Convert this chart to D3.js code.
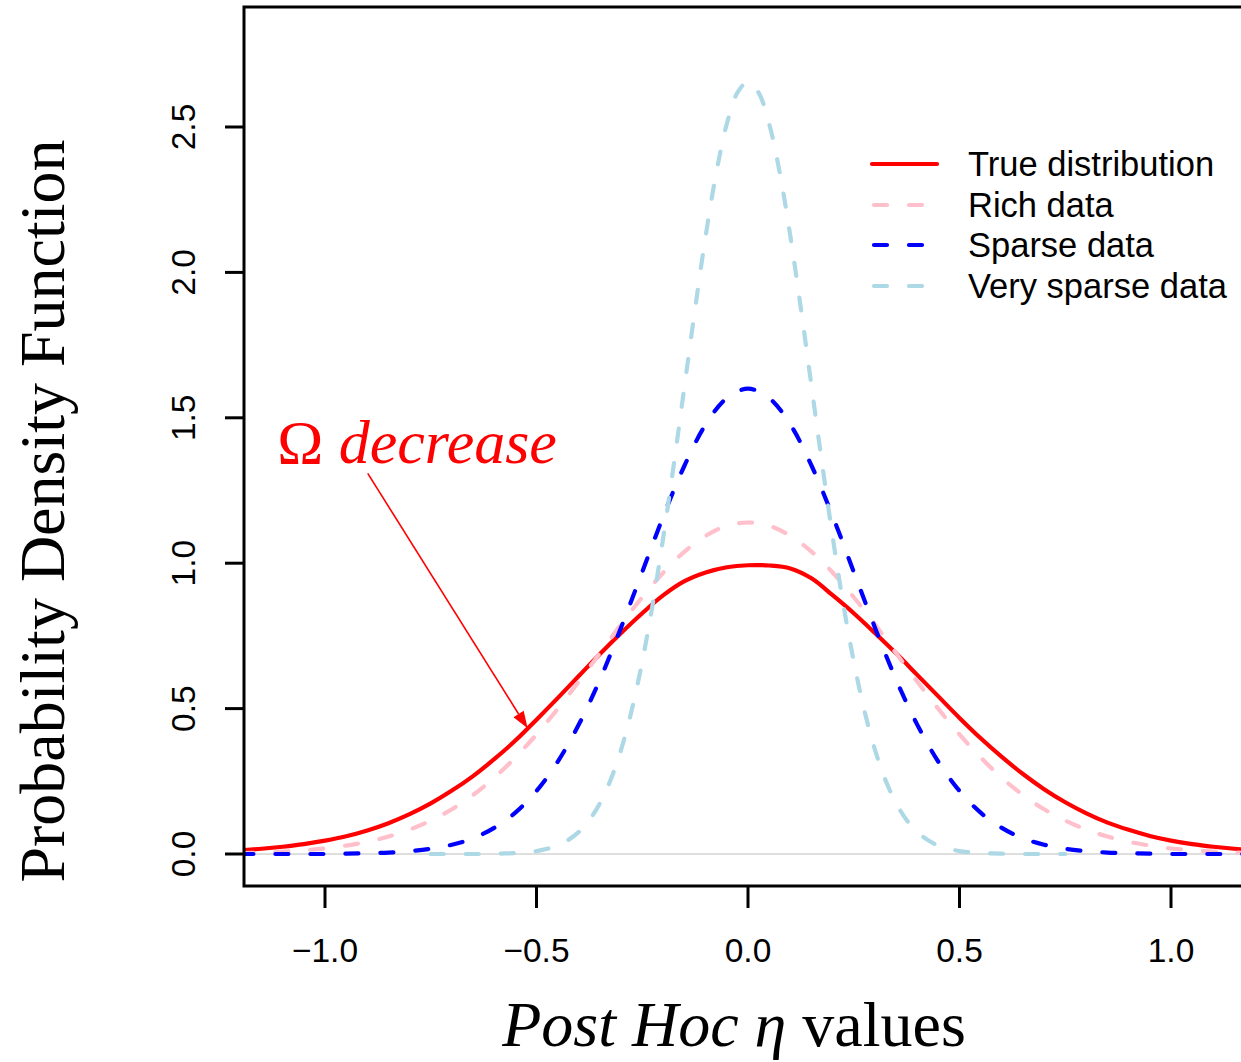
<!DOCTYPE html>
<html>
<head>
<meta charset="utf-8">
<script src="https://cdn.jsdelivr.net/npm/d3@7"></script>
<style>
  html, body { margin: 0; padding: 0; background: #fff; }
  svg { display: block; }
</style>
</head>
<body>
<svg id="chart" width="1241" height="1062"></svg>
<script>
// ---------------- data ----------------
const etaGrid = [-1.2,-1.15,-1.1,-1.05,-1.0,-0.95,-0.9,-0.85,-0.8,-0.75,-0.7,-0.65,-0.6,-0.55,-0.5,-0.45,-0.4,-0.35,-0.3,-0.25,-0.2,-0.15,-0.1,-0.05,
  0,0.05,0.1,0.15,0.2,0.25,0.3,0.35,0.4,0.45,0.5,0.55,0.6,0.65,0.7,0.75,0.8,0.85,0.9,0.95,1.0,1.05,1.1,1.15,1.2];

const trueDistribution = [0.013,0.018,0.025,0.034,0.046,0.061,0.081,0.106,0.137,0.174,0.218,0.268,0.326,0.390,0.462,0.536,0.612,0.688,0.760,0.828,0.890,0.938,0.968,0.986,
  0.993,0.992,0.982,0.948,0.890,0.828,0.760,0.690,0.616,0.542,0.468,0.398,0.334,0.275,0.223,0.178,0.140,0.108,0.083,0.062,0.046,0.034,0.025,0.018,0.013];

const richData = [0.003,0.005,0.008,0.013,0.019,0.029,0.042,0.060,0.084,0.115,0.154,0.203,0.262,0.332,0.411,0.499,0.593,0.691,0.790,0.883,0.968,1.040,1.094,1.129,
  1.140,1.129,1.094,1.040,0.968,0.883,0.790,0.691,0.593,0.499,0.411,0.332,0.262,0.203,0.154,0.115,0.084,0.060,0.042,0.029,0.019,0.013,0.008,0.005,0.003];

const sparseData = [0,0,0,0,0,0.001,0.003,0.005,0.010,0.018,0.032,0.054,0.090,0.142,0.217,0.317,0.445,0.600,0.779,0.970,1.162,1.336,1.477,1.568,
  1.600,1.568,1.477,1.336,1.162,0.970,0.779,0.600,0.445,0.317,0.217,0.142,0.090,0.054,0.032,0.018,0.010,0.005,0.003,0.001,0,0,0,0,0];

const etaVerySparse = [-0.75,-0.725,-0.7,-0.675,-0.65,-0.625,-0.6,-0.575,-0.55,-0.525,-0.5,-0.475,-0.45,-0.425,-0.4,-0.375,-0.35,-0.325,-0.3,-0.275,-0.25,-0.225,-0.2,-0.175,-0.15,-0.125,-0.1,-0.075,-0.05,-0.025,
  0,0.025,0.05,0.075,0.1,0.125,0.15,0.175,0.2,0.225,0.25,0.275,0.3,0.325,0.35,0.375,0.4,0.425,0.45,0.475,0.5,0.525,0.55,0.575,0.6,0.625,0.65,0.675,0.7,0.725,0.75];

const verySparseData = [0,0,0,0,0,0,0.001,0.002,0.003,0.006,0.010,0.018,0.029,0.048,0.076,0.117,0.175,0.254,0.359,0.494,0.662,0.862,1.092,1.344,1.610,1.876,2.126,2.343,2.511,2.618,
  2.655,2.618,2.511,2.343,2.126,1.876,1.610,1.344,1.092,0.862,0.662,0.494,0.359,0.254,0.175,0.117,0.076,0.048,0.029,0.018,0.010,0.006,0.003,0.002,0.001,0,0,0,0,0,0];

const xTicks = [-1.0, -0.5, 0.0, 0.5, 1.0];
const yTicks = [0.0, 0.5, 1.0, 1.5, 2.0, 2.5];

const seriesNames = ["True distribution", "Rich data", "Sparse data", "Very sparse data"];
const seriesColors = ["#ff0000", "#ffc0cb", "#0000ff", "#add8e6"];

// annotation (data coordinates)
const annotText = { x: -1.113, y: 1.343 };
const annotArrow = { x0: -0.899, y0: 1.309, x1: -0.521, y1: 0.432 };

// ---------------- layout ----------------
const svg = d3.select("#chart");
const W = 1241, H = 1062;
const plot = { left: 244, top: 7, bottom: 886, right: 1241 };

const x = d3.scaleLinear().domain([-1, 1]).range([325, 1171]);
const y = d3.scaleLinear().domain([0, 2.5]).range([854, 127]);

const sans = "'Liberation Sans', Arial, Helvetica, sans-serif";
const serif = "'Liberation Serif', 'Times New Roman', Times, serif";

svg.append("rect").attr("width", W).attr("height", H).attr("fill", "#fff");

svg.append("defs").append("clipPath").attr("id", "clip")
  .append("rect")
  .attr("x", plot.left).attr("y", plot.top)
  .attr("width", plot.right - plot.left).attr("height", plot.bottom - plot.top);

const gPlot = svg.append("g").attr("clip-path", "url(#clip)");

// zero reference line
gPlot.append("line")
  .attr("x1", plot.left).attr("x2", plot.right)
  .attr("y1", y(0)).attr("y2", y(0))
  .attr("stroke", "#bebebe").attr("stroke-width", 1);

const line = d3.line().x(d => x(d[0])).y(d => y(d[1])).curve(d3.curveCatmullRom);

const series = [
  { xs: etaGrid, ys: trueDistribution, color: seriesColors[0], dash: null },
  { xs: etaGrid, ys: richData, color: seriesColors[1], dash: "13,22" },
  { xs: etaGrid, ys: sparseData, color: seriesColors[2], dash: "13,22" },
  { xs: etaVerySparse, ys: verySparseData, color: seriesColors[3], dash: "13,22" }
];

series.forEach(s => {
  const pts = s.xs.map((v, i) => [v, s.ys[i]]);
  gPlot.append("path")
    .attr("d", line(pts))
    .attr("fill", "none")
    .attr("stroke", s.color)
    .attr("stroke-width", 4.2)
    .attr("stroke-linecap", "round")
    .attr("stroke-linejoin", "round")
    .attr("stroke-dasharray", s.dash);
});

// box (right side runs off the canvas)
svg.append("path")
  .attr("d", `M${plot.right + 20},${plot.top}H${plot.left}V${plot.bottom}H${plot.right + 20}`)
  .attr("fill", "none").attr("stroke", "#000").attr("stroke-width", 3);

// x axis ticks
const xAxis = svg.append("g");
xTicks.forEach(t => {
  xAxis.append("line")
    .attr("x1", x(t)).attr("x2", x(t))
    .attr("y1", plot.bottom).attr("y2", plot.bottom + 22)
    .attr("stroke", "#000").attr("stroke-width", 3);
  xAxis.append("text")
    .attr("x", x(t)).attr("y", 962)
    .attr("text-anchor", "middle")
    .attr("font-family", sans).attr("font-size", 33.5)
    .attr("fill", "#000")
    .text(d3.format(".1f")(t).replace("-", "\u2212"));
});

// y axis ticks
const yAxis = svg.append("g");
yTicks.forEach(t => {
  yAxis.append("line")
    .attr("x1", plot.left - 19).attr("x2", plot.left)
    .attr("y1", y(t)).attr("y2", y(t))
    .attr("stroke", "#000").attr("stroke-width", 3);
  yAxis.append("text")
    .attr("transform", `translate(195,${y(t)}) rotate(-90)`)
    .attr("text-anchor", "middle")
    .attr("font-family", sans).attr("font-size", 33.5)
    .attr("fill", "#000")
    .text(d3.format(".1f")(t));
});

// axis titles
svg.append("text")
  .attr("transform", `translate(64,511) rotate(-90)`)
  .attr("text-anchor", "middle")
  .attr("font-family", serif).attr("font-size", 64)
  .attr("fill", "#000")
  .text("Probability Density Function");

const xt = svg.append("text")
  .attr("x", 734).attr("y", 1046)
  .attr("text-anchor", "middle")
  .attr("font-family", serif).attr("font-size", 64)
  .attr("fill", "#000");
xt.append("tspan").attr("font-style", "italic").text("Post Hoc \u03B7");
xt.append("tspan").text(" values");

// legend
const legend = svg.append("g");
const legendRows = [164, 205, 245, 286];
seriesNames.forEach((name, i) => {
  const s = series[i];
  legend.append("line")
    .attr("x1", i === 0 ? 872 : 874).attr("x2", i === 0 ? 937 : 935)
    .attr("y1", legendRows[i]).attr("y2", legendRows[i])
    .attr("stroke", s.color).attr("stroke-width", 4.2)
    .attr("stroke-linecap", "round")
    .attr("stroke-dasharray", s.dash);
  legend.append("text")
    .attr("x", 968).attr("y", legendRows[i] + 12)
    .attr("font-family", sans).attr("font-size", 34.5)
    .attr("fill", "#000")
    .text(name);
});

// annotation
const at = svg.append("text")
  .attr("x", x(annotText.x)).attr("y", y(annotText.y))
  .attr("font-family", serif).attr("font-size", 62)
  .attr("fill", "#ff0000");
at.append("tspan").text("\u03A9 ");
at.append("tspan").attr("font-style", "italic").text("decrease");

const ax0 = x(annotArrow.x0), ay0 = y(annotArrow.y0);
const ax1 = x(annotArrow.x1), ay1 = y(annotArrow.y1);
const ang = Math.atan2(ay1 - ay0, ax1 - ax0);
const headLen = 17, headHalf = 6;
const bx = ax1 - headLen * Math.cos(ang), by = ay1 - headLen * Math.sin(ang);
svg.append("line")
  .attr("x1", ax0).attr("y1", ay0).attr("x2", bx).attr("y2", by)
  .attr("stroke", "#ff0000").attr("stroke-width", 1.6);
svg.append("path")
  .attr("d", `M${ax1},${ay1}L${bx + headHalf * Math.sin(ang)},${by - headHalf * Math.cos(ang)}L${bx - headHalf * Math.sin(ang)},${by + headHalf * Math.cos(ang)}Z`)
  .attr("fill", "#ff0000");
</script>
</body>
</html>
